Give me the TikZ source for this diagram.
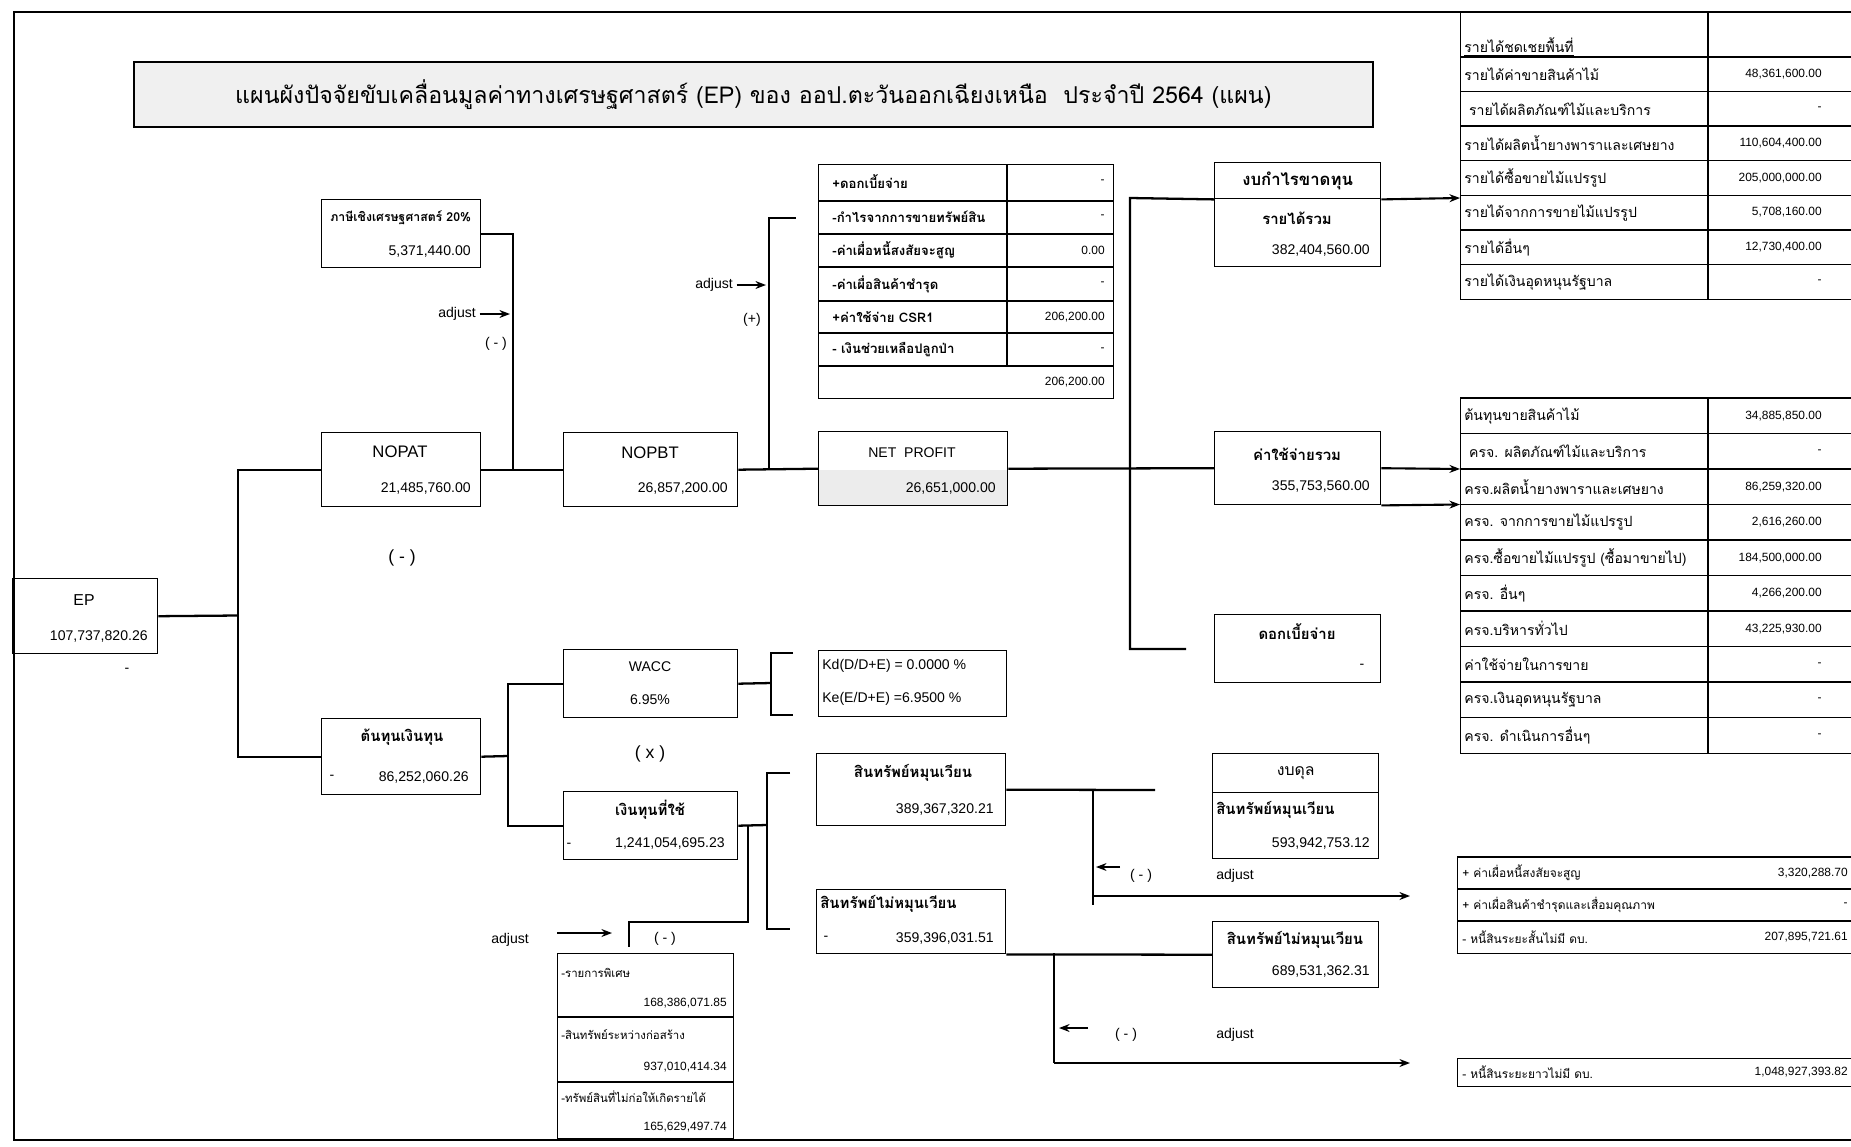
\documentclass[tikz,border=0pt]{standalone}
\usepackage{fontspec}
\setmainfont{Liberation Sans}
\newfontfamily\thai[Script=Thai]{Loma}
\usetikzlibrary{arrows.meta}
\tikzset{
    box/.style={
           draw, line width=0.8pt,
           anchor=north west,
           inner sep=0pt,
           },
}
\tikzset{
    link/.style={line width=1.3pt},
    arr/.style={line width=1.2pt, -{Stealth[length=6pt,width=4.5pt]}},
}
\tikzset{
    txt/.style={inner sep=0pt, font=\fontsize{8}{9}\selectfont},
    ttl/.style={inner sep=0pt, font=\thai\bfseries\fontsize{8.5}{10}\selectfont},
    cell/.style={inner sep=0pt, anchor=west, font=\thai\fontsize{8}{9}\selectfont},
    num/.style={inner sep=0pt, anchor=east, font=\fontsize{6.8}{8}\selectfont},
}

\begin{document}
\begin{tikzpicture}[x=0.02cm, y=-0.02cm]
\useasboundingbox (0,0) rectangle (1851,1146);
% frame
\draw[line width=1.4pt] (1851,12) -- (14,12) -- (14,1140) -- (1851,1140);

% title
\node[box, fill=gray!12, line width=1pt, minimum width=24.78cm, minimum height=1.3cm] (title) at (133,61) {};
\node[inner sep=0pt, font=\thai\fontsize{13.2}{15}\selectfont] (title-t) at (title.center)
    {แผนผังปัจจัยขับเคลื่อนมูลค่าทางเศรษฐศาสตร์ (EP) ของ ออป.ตะวันออกเฉียงเหนือ\ \ ประจำปี 2564 (แผน)};

% EP
\node[box, minimum width=2.9cm, minimum height=1.5cm] (ep) at (12,578) {};
\node[txt, font=\fontsize{9}{10}\selectfont] (ep-t) at (84,600) {EP};
\node[txt, anchor=east] (ep-v) at (148,636) {107,737,820.26};
\node[txt] (ep-d) at (127,670) {-};

% NOPAT side
\node[box, minimum width=3.18cm, minimum height=1.36cm] (tax) at (321,199) {};
\node[ttl, anchor=west, font=\thai\bfseries\fontsize{7}{8}\selectfont] (tax-t) at (330,218) {ภาษีเชิงเศรษฐศาสตร์ 20\%};
\node[txt, anchor=east] (tax-v) at (471,251) {5,371,440.00};

\node[box, minimum width=3.18cm, minimum height=1.48cm] (nopat) at (321,432) {};
\node[txt, font=\fontsize{9.5}{11}\selectfont] (nopat-t) at (400,452) {NOPAT};
\node[txt, anchor=east] (nopat-v) at (471,488) {21,485,760.00};

\node[box, minimum width=3.48cm, minimum height=1.48cm] (nopbt) at (563,432) {};
\node[txt, font=\fontsize{9.5}{11}\selectfont] (nopbt-t) at (650,453) {NOPBT};
\node[txt, anchor=east] (nopbt-v) at (728,488) {26,857,200.00};

\fill[gray!15] (818,470) rectangle (1007,505);
\node[box, minimum width=3.78cm, minimum height=1.48cm] (np) at (818,431) {};
\node[txt] (np-t) at (912,453) {NET\ \ PROFIT};
\node[txt, anchor=east] (np-v) at (996,488) {26,651,000.00};

% adjustments to NOPBT
\node[box, minimum width=5.9cm, minimum height=4.68cm] (adjt) at (818,164) {};
\draw[line width=0.8pt] (1007,164) -- (1007,366);
\foreach \y in {201,234,267,301,333,366}
    \draw[line width=0.8pt] (818,\y) -- (1113,\y);
\foreach \y/\a/\b [count=\i] in {182/{+ดอกเบี้ยจ่าย}/-, 217/{-กำไรจากการขายทรัพย์สิน}/-,
    250/{-ค่าเผื่อหนี้สงสัยจะสูญ}/{0.00}, 284/{-ค่าเผื่อสินค้าชำรุด}/-,
    317/{+ค่าใช้จ่าย CSR1}/{206,200.00}, 350/{- เงินช่วยเหลือปลูกป่า}/-}
{
    \node[cell, font=\thai\bfseries\fontsize{7.5}{9}\selectfont] (adjt-l\i) at (832,\y) {\a};
    \node[num] (adjt-v\i) at (1105,\y) {\b};
}
\node[num] (adjt-sum) at (1105,382) {206,200.00};

% cost of capital side
\node[box, minimum width=3.18cm, minimum height=1.52cm] (coc) at (321,718) {};
\node[ttl] (coc-t) at (402,737) {ต้นทุนเงินทุน};
\node[txt] (coc-d) at (332,777) {-};
\node[txt, anchor=east] (coc-v) at (469,777) {86,252,060.26};

\node[box, minimum width=3.48cm, minimum height=1.36cm] (wacc) at (563,649) {};
\node[txt] (wacc-t) at (650,667) {WACC};
\node[txt] (wacc-v) at (650,700) {6.95\%};

\node[box, minimum width=3.48cm, minimum height=1.36cm] (cap) at (563,791) {};
\node[ttl] (cap-t) at (650,810) {เงินทุนที่ใช้};
\node[txt] (cap-d) at (569,845) {-};
\node[txt, anchor=east] (cap-v) at (725,843) {1,241,054,695.23};

\node[box, minimum width=3.76cm, minimum height=1.32cm] (kd) at (818,650) {};
\node[txt, anchor=west] (kd-1) at (822,666) {Kd(D/D+E) = 0.0000 \%};
\node[txt, anchor=west] (kd-2) at (822,699) {Ke(E/D+E) =6.9500 \%};

\node[box, minimum width=3.78cm, minimum height=1.44cm] (ca) at (816,753) {};
\node[ttl] (ca-t) at (913,773) {สินทรัพย์หมุนเวียน};
\node[txt, anchor=east] (ca-v) at (994,809) {389,367,320.21};

\node[box, minimum width=3.78cm, minimum height=1.28cm] (nca) at (816,889) {};
\node[ttl, anchor=west] (nca-t) at (820,904) {สินทรัพย์ไม่หมุนเวียน};
\node[txt] (nca-d) at (826,938) {-};
\node[txt, anchor=east] (nca-v) at (994,938) {359,396,031.51};

% special items
\node[box, minimum width=3.52cm, minimum height=3.7cm] (spc) at (557,953) {};
\draw[line width=0.8pt] (557,1017) -- (733,1017);
\draw[line width=0.8pt] (557,1082) -- (733,1082);
\node[cell, font=\thai\fontsize{6.5}{8}\selectfont] (spc-l1) at (561,973) {-รายการพิเศษ};
\node[num] (spc-v1) at (727,1003) {168,386,071.85};
\node[cell, font=\thai\fontsize{6.5}{8}\selectfont] (spc-l2) at (561,1035) {-สินทรัพย์ระหว่างก่อสร้าง};
\node[num] (spc-v2) at (727,1067) {937,010,414.34};
\node[cell, font=\thai\fontsize{6.5}{8}\selectfont] (spc-l3) at (561,1097) {-ทรัพย์สินที่ไม่ก่อให้เกิดรายได้};
\node[num] (spc-v3) at (727,1127) {165,629,497.74};

% statements
\node[box, minimum width=3.32cm, minimum height=0.72cm] (plh) at (1214,162) {};
\node[box, minimum width=3.32cm, minimum height=1.36cm] (plb) at (1214,198) {};
\node[ttl, font=\thai\bfseries\fontsize{9.5}{11}\selectfont] (plh-t) at (plh.center) {งบกำไรขาดทุน};
\node[ttl] (plb-t) at (1297,218) {รายได้รวม};
\node[txt, anchor=east] (plb-v) at (1370,250) {382,404,560.00};

\node[box, minimum width=3.32cm, minimum height=1.46cm] (exp) at (1214,431) {};
\node[ttl] (exp-t) at (1297,454) {ค่าใช้จ่ายรวม};
\node[txt, anchor=east] (exp-v) at (1370,486) {355,753,560.00};

\node[box, minimum width=3.32cm, minimum height=1.36cm] (int) at (1214,614) {};
\node[ttl] (int-t) at (1297,632) {ดอกเบี้ยจ่าย};
\node[txt] (int-d) at (1362,666) {-};

\node[box, minimum width=3.32cm, minimum height=0.78cm] (bsh) at (1212,753) {};
\node[box, minimum width=3.32cm, minimum height=1.32cm] (bsb) at (1212,792) {};
\node[inner sep=0pt, font=\thai\fontsize{9}{10}\selectfont] (bsh-t) at (bsh.center) {งบดุล};
\node[ttl, anchor=west] (bsb-t) at (1216,810) {สินทรัพย์หมุนเวียน};
\node[txt, anchor=east] (bsb-v) at (1370,843) {593,942,753.12};

\node[box, minimum width=3.32cm, minimum height=1.32cm] (nca2) at (1212,921) {};
\node[ttl] (nca2-t) at (1295,940) {สินทรัพย์ไม่หมุนเวียน};
\node[txt, anchor=east] (nca2-v) at (1370,971) {689,531,362.31};

% revenue table
\node[box, minimum width=7.9cm, minimum height=5.74cm] (rev) at (1460,12) {};
\draw[line width=0.8pt] (1708,12) -- (1708,299);
\node[cell] (rev-h) at (1464,47) {\underline{รายได้ชดเชยพื้นที่}};
\foreach \a/\b [count=\i] in {{รายได้ค่าขายสินค้าไม้}/{48,361,600.00}, {\ รายได้ผลิตภัณฑ์ไม้และบริการ}/-,
    {รายได้ผลิตน้ำยางพาราและเศษยาง}/{110,604,400.00}, {รายได้ซื้อขายไม้แปรรูป}/{205,000,000.00},
    {รายได้จากการขายไม้แปรรูป}/{5,708,160.00}, {รายได้อื่นๆ}/{12,730,400.00}, {รายได้เงินอุดหนุนรัฐบาล}/-}
{
    \draw[line width=0.8pt] (1460,{57+(\i-1)*34.57}) -- (1851,{57+(\i-1)*34.57});
    \node[cell] (rev-l\i) at (1464,{57+(\i-0.5)*34.57}) {\a};
    \node[num] (rev-v\i) at (1822,{57+(\i-0.5)*34.57}) {\b};
}

% expense table
\node[box, minimum width=7.9cm, minimum height=7.1cm] (expt) at (1460,398) {};
\draw[line width=0.8pt] (1708,398) -- (1708,753);
\foreach \a/\b [count=\i] in {{ต้นทุนขายสินค้าไม้}/{34,885,850.00}, {\ ครจ. ผลิตภัณฑ์ไม้และบริการ}/-,
    {ครจ.ผลิตน้ำยางพาราและเศษยาง}/{86,259,320.00}, {ครจ. จากการขายไม้แปรรูป}/{2,616,260.00},
    {ครจ.ซื้อขายไม้แปรรูป (ซื้อมาขายไป)}/{184,500,000.00}, {ครจ. อื่นๆ}/{4,266,200.00},
    {ครจ.บริหารทั่วไป}/{43,225,930.00}, {ค่าใช้จ่ายในการขาย}/-, {ครจ.เงินอุดหนุนรัฐบาล}/-,
    {ครจ. ดำเนินการอื่นๆ}/-}
{
    \draw[line width=0.8pt] (1460,{398+(\i-1)*35.5}) -- (1851,{398+(\i-1)*35.5});
    \node[cell] (expt-l\i) at (1464,{398+(\i-0.5)*35.5}) {\a};
    \node[num] (expt-v\i) at (1822,{398+(\i-0.5)*35.5}) {\b};
}

% liabilities
\node[box, minimum width=7.96cm, minimum height=1.92cm] (lia) at (1457,857) {};
\foreach \a/\b [count=\i] in {{+ ค่าเผื่อหนี้สงสัยจะสูญ}/{3,320,288.70}, {+ ค่าเผื่อสินค้าชำรุดและเสื่อมคุณภาพ}/-,
    {- หนี้สินระยะสั้นไม่มี ดบ.}/{207,895,721.61}}
{
    \draw[line width=0.8pt] (1457,{857+(\i-1)*32}) -- (1851,{857+(\i-1)*32});
    \node[cell, font=\thai\fontsize{6.8}{8}\selectfont] (lia-l\i) at (1462,{857+(\i-0.5)*32}) {\a};
    \node[num] (lia-v\i) at (1848,{857+(\i-0.5)*32}) {\b};
}
\node[box, minimum width=7.96cm, minimum height=0.56cm] (ltl) at (1457,1058) {};
\node[cell, font=\thai\fontsize{6.8}{8}\selectfont] (ltl-l) at (1462,1072) {- หนี้สินระยะยาวไม่มี ดบ.};
\node[num] (ltl-v) at (1848,1072) {1,048,927,393.82};

% connectors: EP split
\coordinate (s1) at (238,615.5);
\draw[link] (ep.east) -- (s1);
\draw[link] (nopat.west) -| (s1) |- (coc.west);
\node[txt, font=\fontsize{10}{12}\selectfont] (m0) at (402,558) {( - )};

% tax into NOPAT line
\coordinate (s2) at (513,469);
\draw[link] (tax.east) -| (s2);
\draw[link] (nopat.east) -- (nopbt.west);
\node[txt] (adj1) at (457,314) {adjust};
\coordinate (a1) at (510,314);
\draw[arr, shorten <=2pt] (adj1.east) -- (a1);
\node[txt] (m1) at (496,344) {( - )};

% NOPBT to net profit
\coordinate (s3) at (769,469);
\coordinate (s3t) at (796,218);
\draw[link] (nopbt.east) -- (np.west);
\draw[link] (s3) |- (s3t);
\node[txt] (adj2) at (714,285) {adjust};
\coordinate (a2) at (766,285);
\draw[arr, shorten <=2pt] (adj2.east) -- (a2);
\node[txt] (p1) at (752,320) {(+)};

% net profit to statements
\coordinate (s4t) at (1130,198);
\coordinate (s4b) at (1186,649);
\draw[link] (np.east) -- (exp.west);
\draw[link] (plh.south west) -- (s4t) |- (s4b);
\coordinate (r4) at (1460,198);
\draw[arr] (plh.south east) -- (r4);
\coordinate (e2) at (1460,469);
\coordinate (e3) at (1460,504.5);
\draw[arr] (exp.east) -- (e2);
\draw[arr] (exp.south east) -- (e3);

% cost of capital split
\coordinate (s5) at (508,756);
\draw[link] (coc.east) -- (s5);
\draw[link] (wacc.west) -| (s5) |- (cap.west);
\node[txt, font=\fontsize{10}{12}\selectfont] (x1) at (650,754) {( x )};

% WACC bracket
\coordinate (b1) at (771,683);
\coordinate (b1t) at (793,653);
\coordinate (b1b) at (793,715);
\draw[link] (wacc.east) -- (b1);
\draw[link] (b1t) -| (b1) |- (b1b);

% capital bracket
\coordinate (b2) at (767,825);
\coordinate (b2t) at (790,773);
\coordinate (b2b) at (790,929);
\draw[link] (cap.east) -- (b2);
\draw[link] (b2t) -| (b2) |- (b2b);

% capital adjust
\coordinate (s6) at (748,825);
\coordinate (s6m) at (748,922);
\coordinate (s6b) at (629,947);
\draw[link] (s6) -- (s6m) -| (s6b);
\node[txt] (adj3) at (510,940) {adjust};
\coordinate (a3s) at (557,933);
\coordinate (a3) at (612,933);
\draw[arr, line width=1pt] (a3s) -- (a3);
\node[txt] (m3) at (665,939) {( - )};

% current assets
\coordinate (s7) at (1093,790);
\coordinate (s7r) at (1155,790);
\coordinate (s7b) at (1093,905);
\coordinate (t3) at (1410,896);
\draw[link] (ca.east) -- (s7r);
\draw[link] (s7) -- (s7b);
\draw[arr] (s7 |- t3) -- (t3);
\coordinate (k1) at (1120,867);
\coordinate (k1e) at (1096,867);
\draw[arr, line width=0.7pt] (k1) -- (k1e);
\node[txt] (m4) at (1141,876) {( - )};
\node[txt] (adj4) at (1235,876) {adjust};

% non-current assets
\coordinate (s8) at (1054,953);
\coordinate (s8b) at (1054,1063);
\coordinate (t4) at (1410,1063);
\draw[link] (nca.south east) -- (nca2.west);
\draw[link] (s8) -- (s8b);
\draw[arr] (s8b) -- (t4);
\coordinate (k2) at (1088,1028);
\coordinate (k2e) at (1059,1028);
\draw[arr, line width=1.2pt] (k2) -- (k2e);
\node[txt] (m5) at (1126,1035) {( - )};
\node[txt] (adj5) at (1235,1035) {adjust};
\end{tikzpicture}
\end{document}
